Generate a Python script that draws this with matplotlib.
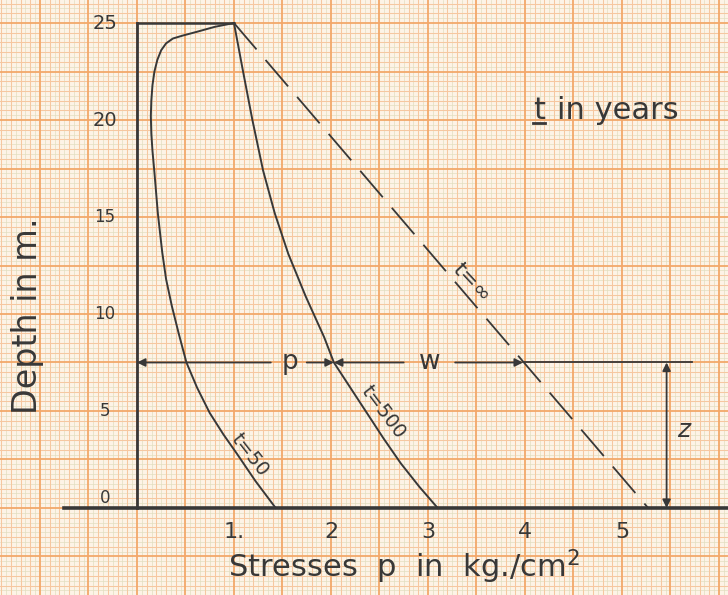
import numpy as np
import matplotlib
matplotlib.use('Agg')
import matplotlib.pyplot as plt

plt.rcParams['lines.scale_dashes'] = False

# stress isochrones, p in kg/cm2 against depth z in m
t50_p = [1.00, 0.80, 0.62, 0.47, 0.37, 0.30, 0.25, 0.21, 0.18, 0.16, 0.148, 0.143, 0.148, 0.16,
         0.18, 0.215, 0.26, 0.30, 0.36, 0.43, 0.51, 0.62, 0.75, 0.89, 1.03, 1.22, 1.43]
t50_z = [25.0, 24.8, 24.55, 24.35, 24.2, 23.95, 23.6, 23.1, 22.5, 21.8, 21.0, 20.2, 19.3, 18.4,
         17.3, 15.2, 13.2, 11.8, 10.4, 9.0, 7.5, 6.2, 4.9, 3.8, 2.8, 1.4, 0.0]

t500_p = [1.00, 1.09, 1.19, 1.30, 1.42, 1.56, 1.74, 1.93, 2.03, 2.20, 2.37, 2.54, 2.72, 2.91, 3.10]
t500_z = [25.0, 22.6, 20.0, 17.4, 15.2, 13.1, 10.9, 8.8, 7.5, 6.2, 4.9, 3.6, 2.3, 1.1, 0.0]

tinf_p = [1.00, 5.27]
tinf_z = [25.0, 0.0]

z_mark = 7.5        # depth where p and w are shown
p_mark = 2.03       # t=500 at z_mark
pinf_mark = 3.98    # t=inf at z_mark
z_bar_x = 5.46      # where the z dimension is drawn

x_ticks = [1, 2, 3, 4, 5]
x_ticklabels = ['1.', '2', '3', '4', '5']
y_ticks = [0, 5, 10, 15, 20, 25]

paper = '#fdf3e6'
major_c = '#f2a869'
mid_c = '#f6c7a0'
fine_c = '#e2dec0'
ink = '#383838'

fig = plt.figure(figsize=(7.28, 5.95), dpi=100)
fig.patch.set_facecolor(paper)
ax = fig.add_axes([0, 0, 1, 1])
ax.set_facecolor(paper)
ax.set_xlim(-1.412, 6.093)
ax.set_ylim(-4.485, 26.186)
ax.axis('off')

# graph paper
for x in np.arange(-1.4, 6.1, 0.05):
    k = int(round(x / 0.05))
    if k % 10 == 0:
        ax.axvline(x, color=major_c, lw=1.3, zorder=0.3)
    elif k % 2 == 0:
        ax.axvline(x, color=mid_c, lw=0.75, zorder=0.2)
    else:
        ax.axvline(x, color=fine_c, lw=0.5, zorder=0.1)
for y in np.arange(-4.5, 26.25, 0.25):
    k = int(round(y / 0.25))
    if k % 10 == 0:
        ax.axhline(y, color=major_c, lw=1.3, zorder=0.3)
    elif k % 2 == 0:
        ax.axhline(y, color=mid_c, lw=0.75, zorder=0.2)
    else:
        ax.axhline(y, color=fine_c, lw=0.5, zorder=0.1)

# axes drawn by hand
ax.plot([-0.75, 6.1], [0, 0], color=ink, lw=2.6, zorder=3)
ax.plot([0, 0], [0, 25], color=ink, lw=2.0, zorder=3)
ax.plot([0, 1], [25, 25], color=ink, lw=1.8, zorder=3)

ax.plot(t50_p, t50_z, color=ink, lw=1.4, zorder=3, solid_joinstyle='round')
ax.plot(t500_p, t500_z, color=ink, lw=1.4, zorder=3, solid_joinstyle='round')
ax.plot(tinf_p, tinf_z, color=ink, lw=1.3, ls=(0, (25, 10)), zorder=3)

# tick labels
for xt, lab in zip(x_ticks, x_ticklabels):
    ax.text(xt, -1.25, lab, ha='center', va='center', fontsize=16, color=ink)
for yt in y_ticks:
    ax.text(-0.33, yt + (0.5 if yt == 0 else 0), str(yt), ha='center', va='center',
            fontsize=14 if yt >= 20 else 12, color=ink)

ax.text(2.75, -3.05, 'Stresses  p  in  kg./cm$^2$', ha='center', va='center',
        fontsize=22, color=ink)
ax.text(-1.13, 9.9, 'Depth in m.', ha='center', va='center', rotation=90,
        fontsize=24, color=ink)

# "t in years" with the t underlined
t_txt = ax.text(4.08, 20.5, 't', ha='left', va='center', fontsize=22, color=ink)
ax.text(4.33, 20.5, 'in years', ha='left', va='center', fontsize=22, color=ink)
fig.canvas.draw()
bb = t_txt.get_window_extent().transformed(ax.transData.inverted())
ax.plot([bb.x0, bb.x1], [bb.y0 + 0.1, bb.y0 + 0.1], color=ink, lw=2.0)

# curve labels
ax.text(1.165, 2.75, 't=50', rotation=-52, ha='center', va='center', fontsize=14, color=ink)
ax.text(2.54, 4.95, 't=500', rotation=-53, ha='center', va='center', fontsize=14, color=ink)
ax.text(3.45, 11.6, 't=\u221e', rotation=-47, ha='center', va='center', fontsize=16, color=ink)

# p and w dimension arrows
arr = dict(arrowstyle='-|>', color=ink, lw=1.3, mutation_scale=12, shrinkA=0, shrinkB=0)
p_lab = 1.58
w_lab = 3.02
ax.annotate('', xy=(0, z_mark), xytext=(p_lab - 0.2, z_mark), arrowprops=arr, zorder=4)
ax.annotate('', xy=(p_mark, z_mark), xytext=(p_lab + 0.17, z_mark), arrowprops=arr, zorder=4)
ax.annotate('', xy=(p_mark, z_mark), xytext=(w_lab - 0.27, z_mark), arrowprops=arr, zorder=4)
ax.annotate('', xy=(pinf_mark, z_mark), xytext=(w_lab + 0.26, z_mark), arrowprops=arr, zorder=4)
ax.plot([pinf_mark, 5.72], [z_mark, z_mark], color=ink, lw=1.3, zorder=4)
ax.text(p_lab, z_mark, 'p', ha='center', va='center', fontsize=19, color=ink)
ax.text(w_lab, z_mark, 'w', ha='center', va='center', fontsize=19, color=ink)

# z dimension
ax.annotate('', xy=(z_bar_x, z_mark), xytext=(z_bar_x, 0),
            arrowprops=dict(arrowstyle='<|-|>', color=ink, lw=1.3, mutation_scale=12,
                            shrinkA=0, shrinkB=0), zorder=4)
ax.text(5.64, 4.0, 'z', ha='center', va='center', fontsize=18, style='italic', color=ink)

fig.savefig('out.png', dpi=100, facecolor=paper)
